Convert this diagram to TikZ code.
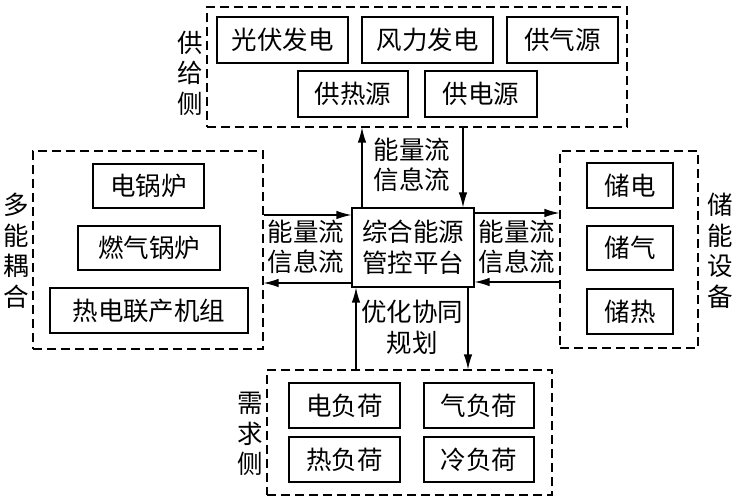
\documentclass[tikz,border=0pt]{standalone}
\usepackage{fontspec}
\setmainfont{Noto Sans CJK SC}
\usetikzlibrary{arrows.meta}
\tikzset{
  bx/.style={draw, line width=1.2pt, inner sep=0pt, font=\fontsize{25.5}{31}\selectfont},
  grp/.style={draw, dash pattern=on 9pt off 5pt, line width=1.2pt, inner sep=0pt},
  lbl/.style={align=center, inner sep=0pt, font=\fontsize{25.5}{30.5}\selectfont},
  arr/.style={-{Latex[length=15pt,width=8.5pt]}, line width=1.2pt},
}
\begin{document}
\begin{tikzpicture}[x=1pt, y=-1pt]
\useasboundingbox (0,0) rectangle (740,500);
% groups
\node[grp, minimum width=420pt, minimum height=120pt] (tg) at (417,67) {};
\node[grp, minimum width=230pt, minimum height=198pt] (lg) at (148,250) {};
\node[grp, minimum width=138pt, minimum height=197pt] (rg) at (629,249.5) {};
\node[grp, minimum width=285pt, minimum height=125pt] (bg) at (409.5,432.5) {};
% center
\node[bx, align=center, minimum width=122pt, minimum height=79pt] (cb) at (413,247.5) {综合能源\\管控平台};
% top
\node[bx, minimum width=131pt, minimum height=46pt] (t1) at (282.5,40) {光伏发电};
\node[bx, minimum width=131pt, minimum height=46pt] (t2) at (427.5,40) {风力发电};
\node[bx, minimum width=111pt, minimum height=46pt] (t3) at (562.5,40) {供气源};
\node[bx, minimum width=110pt, minimum height=46pt] (t4) at (353,94) {供热源};
\node[bx, minimum width=112pt, minimum height=46pt] (t5) at (481,94) {供电源};
% left
\node[bx, minimum width=111pt, minimum height=44pt] (l1) at (148.5,186) {电锅炉};
\node[bx, minimum width=142pt, minimum height=44pt] (l2) at (149,248) {燃气锅炉};
\node[bx, minimum width=198pt, minimum height=45pt] (l3) at (149,310.5) {热电联产机组};
% right
\node[bx, minimum width=86pt, minimum height=45pt] (r1) at (630,185.5) {储电};
\node[bx, minimum width=86pt, minimum height=44pt] (r2) at (630,248) {储气};
\node[bx, minimum width=86pt, minimum height=45pt] (r3) at (630,311.5) {储热};
% bottom
\node[bx, minimum width=111pt, minimum height=45pt] (b1) at (344.5,405.5) {电负荷};
\node[bx, minimum width=110pt, minimum height=45pt] (b2) at (479,405.5) {气负荷};
\node[bx, minimum width=111pt, minimum height=45pt] (b3) at (344.5,459.5) {热负荷};
\node[bx, minimum width=110pt, minimum height=45pt] (b4) at (479,459.5) {冷负荷};
% side labels
\node[lbl] (st) at (190,73) {供\\给\\侧};
\node[lbl] (sl) at (16,251) {多\\能\\耦\\合};
\node[lbl] (sr) at (720,251) {储\\能\\设\\备};
\node[lbl] (sb) at (250,434) {需\\求\\侧};
% flow labels
\node[lbl] (fl) at (306,247) {能量流\\信息流};
\node[lbl] (fr) at (517,247) {能量流\\信息流};
\node[lbl] (ft) at (412,165) {能量流\\信息流};
\node[lbl] (fb) at (412,327.5) {优化协同\\规划};
% arrows
\draw[arr] (lg.east |- 0,215) -- (cb.west |- 0,215);
\draw[arr] (cb.west |- 0,283) -- (lg.east |- 0,283);
\draw[arr] (cb.east |- 0,213) -- (rg.west |- 0,213);
\draw[arr] (rg.west |- 0,282) -- (cb.east |- 0,282);
\draw[arr] (cb.north -| 362,0) -- (tg.south -| 362,0);
\draw[arr] (tg.south -| 463,0) -- (cb.north -| 463,0);
\draw[arr] (bg.north -| 356,0) -- (cb.south -| 356,0);
\draw[arr] (cb.south -| 468,0) -- (bg.north -| 468,0);
\end{tikzpicture}
\end{document}
